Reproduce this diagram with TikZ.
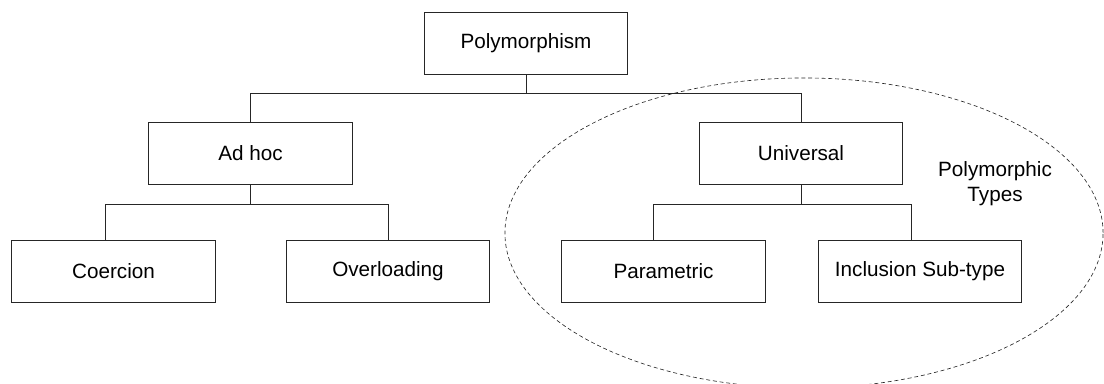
\documentclass[tikz,border=0pt]{standalone}
\usepackage{fontspec}
\setmainfont{Liberation Sans}
\usetikzlibrary{shapes.geometric}
\definecolor{inkgray}{HTML}{262626}
\tikzset{
  box/.style={draw=inkgray, line width=0.7pt, minimum width=5.075cm, minimum height=1.55cm, inner sep=0pt},
  link/.style={draw=inkgray, line width=0.7pt},
  group/.style={ellipse, draw=inkgray, line width=0.45pt, dash pattern=on 2.8pt off 2pt,
    minimum width=14.95cm, minimum height=7.75cm, inner sep=0pt}
}

\begin{document}
\begin{tikzpicture}[x=0.025cm, y=-0.025cm, font=\fontsize{14.7}{17.7}\selectfont]
  \useasboundingbox (0,0) rectangle (1104,383);
  % dashed group round the universal branch
  \node[group] (types) at (804,233) {};
  \node[align=center] (typeslabel) at (995,183.5) {Polymorphic\\Types};

  \node[box] (poly) at (526,43) {Polymorphism};
  \node[box] (adhoc) at (250.5,153) {Ad hoc};
  \node[box] (universal) at (801,153.5) {Universal};
  \node[box] (coercion) at (113.5,271) {Coercion};
  \node[box] (overloading) at (388,271) {Overloading};
  \node[box] (parametric) at (663.5,271) {Parametric};
  \node[box] (inclusion) at (920,271) {Inclusion Sub-type};

  % buses
  \coordinate (topbus) at (0,93);
  \coordinate (lowbus) at (0,204);

  \draw[link] (poly.south) -- (poly.south |- topbus);
  \draw[link] (adhoc.north) |- (topbus -| universal.north) -- (universal.north);

  \draw[link] (adhoc.south) -- (adhoc.south |- lowbus);
  \draw[link] ([xshift=-0.19cm]coercion.north) |- (lowbus -| overloading.north) -- (overloading.north);

  \draw[link] (universal.south) -- (universal.south |- lowbus);
  \draw[link] ([xshift=-0.24cm]parametric.north) |- ([xshift=-0.225cm]inclusion.north |- lowbus)
    -- ([xshift=-0.225cm]inclusion.north);
\end{tikzpicture}
\end{document}
